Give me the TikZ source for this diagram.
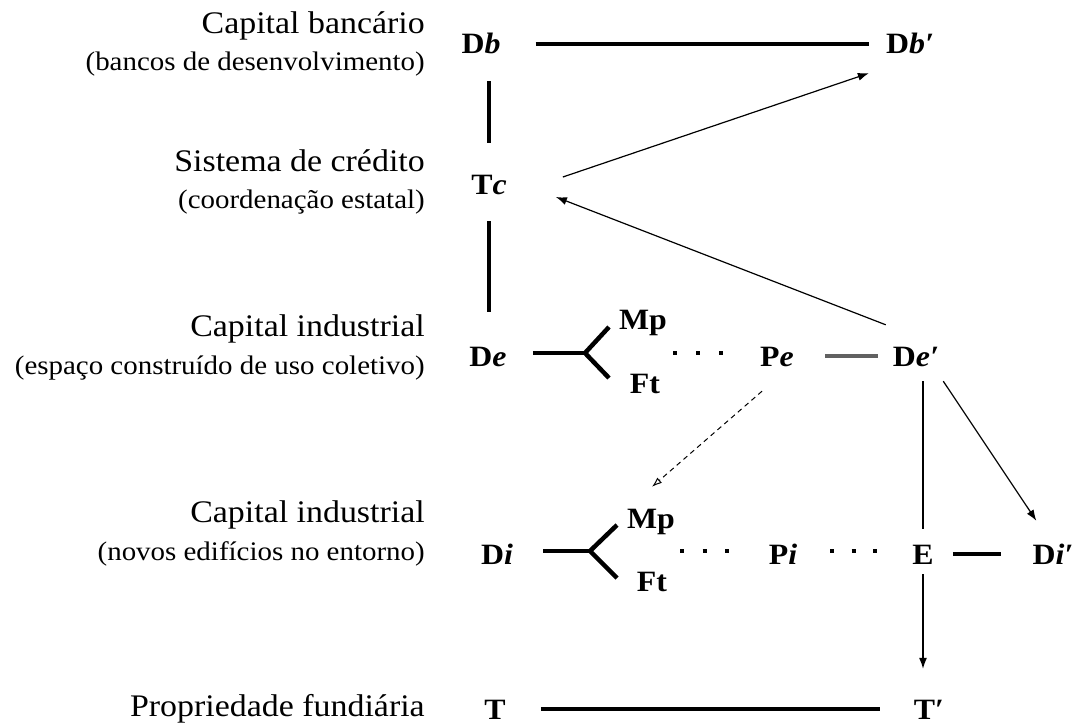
\documentclass[tikz,border=0pt]{standalone}
\usepackage{fontspec}
\setmainfont{Liberation Serif}[FakeStretch=1.08]
\usetikzlibrary{calc,arrows.meta}
\begin{document}
\begin{tikzpicture}[x=1pt,y=-1pt,
  lab/.style={inner sep=0pt, font=\fontsize{29.5}{29.5}\selectfont\bfseries, text height=20pt, text depth=0pt},
  ttl/.style={anchor=base east, inner sep=0pt, font=\fontsize{31.4}{32}\selectfont},
  sub/.style={anchor=base east, inner sep=0pt, font=\fontsize{26.8}{28}\selectfont},
  heavy/.style={line width=4.5pt},
  grayline/.style={line width=4.5pt, draw=black!62},
  thinline/.style={line width=1.2pt},
  arr/.style={line width=1.2pt, -{Latex[length=11pt,width=8pt]}},
  dasharr/.style={line width=1pt, dash pattern=on 5pt off 4pt, -{Latex[length=10pt,width=7pt,open]}},
  dotrow/.style={line width=4pt}
]
\path[use as bounding box] (0,0) rectangle (1078,727);

% left labels
\node[ttl] (t1) at (425,34) {Capital bancário};
\node[sub] (s1) at (425,71) {(bancos de desenvolvimento)};
\node[ttl] (t2) at (425,172) {Sistema de crédito};
\node[sub] (s2) at (425,209) {(coordenação estatal)};
\node[ttl] (t3) at (425,336) {Capital industrial};
\node[sub] (s3) at (425,374) {(espaço construído de uso coletivo)};
\node[ttl] (t4) at (425,522) {Capital industrial};
\node[sub] (s4) at (425,560) {(novos edifícios no entorno)};
\node[ttl] (t5) at (425,716) {Propriedade fundiária};

% circuit labels
\node[lab] (Db) at (481,44) {D\textit{b}};
\node[lab] (Dbp) at (910,44) {D\textit{b′}};
\node[lab] (Tc) at (489,185) {T\textit{c}};
\node[lab] (De) at (488,356) {D\textit{e}};
\node[lab] (Mpa) at (643,319) {Mp};
\node[lab] (Fta) at (645,383) {Ft};
\node[lab] (Pe) at (777,356) {P\textit{e}};
\node[lab] (Dep) at (916,356) {D\textit{e′}};
\node[lab] (Di) at (497,554) {D\textit{i}};
\node[lab] (Mpb) at (651,518) {Mp};
\node[lab] (Ftb) at (652,581) {Ft};
\node[lab] (Pi) at (783,554) {P\textit{i}};
\node[lab] (E) at (923,554) {E};
\node[lab] (Dip) at (1053,554) {D\textit{i′}};
\node[lab] (T) at (495,709) {T};
\node[lab] (Tp) at (929,709) {T′};

% fork and dot coordinates
\coordinate (fa) at (585,353);
\coordinate (fa1) at (609,327);
\coordinate (fa2) at (609,378);
\coordinate (fb) at (590,551);
\coordinate (fb1) at (617,525);
\coordinate (fb2) at (617,578);
\coordinate (da1) at (673,353);
\coordinate (da2) at (723,353);
\coordinate (db1) at (680,551);
\coordinate (db2) at (729,551);
\coordinate (dc1) at (830,551);
\coordinate (dc2) at (877,551);

% bank row
\draw[heavy, shorten <=35pt, shorten >=17pt] (Db) -- (Dbp);
\draw[heavy, shorten <=27pt, shorten >=32pt] (Tc.north |- Db.south) -- (Tc.north);
\draw[heavy, shorten <=26pt, shorten >=34pt] (Tc.south) -- (Tc.south |- De.north);
\draw[arr] ($(Tc.east)+(56,-8)$) -- ($(Dbp.south west)+(-17,19)$);
\draw[arr] ($(Dep.north west)+(-7,-21)$) -- ($(Tc.east)+(49,12)$);

% collective built space row
\draw[heavy, shorten <=26pt] (De.east |- fa) -- (fa);
\draw[heavy, line join=miter] (fa1) -- (fa) -- (fa2);
\draw[dotrow, dash pattern=on 4pt off 19pt] (da1) -- (da2);
\draw[grayline, shorten <=31pt, shorten >=15pt] (Pe) -- (Dep);
\draw[dasharr] ($(Pe.south)+(-15,25)$) -- ($(Mpb.north)+(1,-21)$);
\draw[thinline, shorten <=15pt, shorten >=15pt] (E.north |- Dep.south) -- (E.north);
\draw[arr] ($(Dep.south east)+(4,15)$) -- ($(Dip.north west)+(4,-23)$);

% new buildings row
\draw[heavy, shorten <=30pt] (Di.east |- fb) -- (fb);
\draw[heavy, line join=miter] (fb1) -- (fb) -- (fb2);
\draw[dotrow, dash pattern=on 4pt off 18.5pt] (db1) -- (db2);
\draw[dotrow, dash pattern=on 4pt off 17.5pt] (dc1) -- (dc2);
\draw[heavy, shorten <=19pt, shorten >=31pt] (E) -- (Dip);
\draw[arr, shorten <=10pt, shorten >=30pt] (E.south) -- (E.south |- Tp.north);

% land row
\draw[heavy, shorten <=35pt, shorten >=34pt] (T) -- (Tp);
\end{tikzpicture}
\end{document}
